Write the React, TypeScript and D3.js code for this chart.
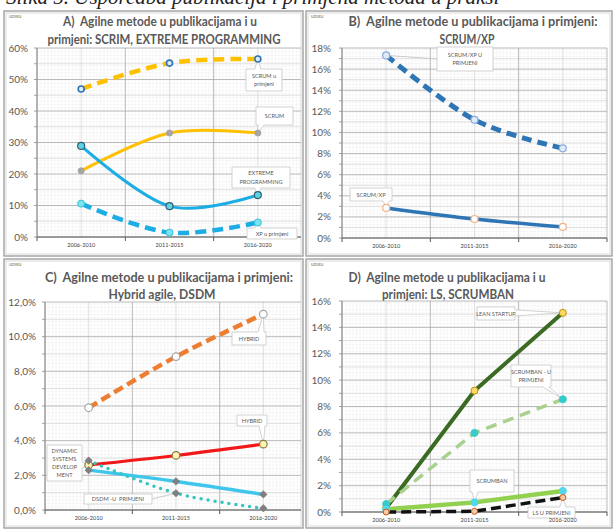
import React from 'react';
import * as d3 from 'd3';

// ---------- DATA ----------
const categories = ['2006-2010', '2011-2015', '2016-2020'];

// Panel A
const aScrumPrimjena = [0.47, 0.552, 0.565];
const aScrum = [0.21, 0.33, 0.33];
const aExtreme = [0.289, 0.098, 0.133];
const aXpPrimjena = [0.106, 0.014, 0.046];
const aTicks = [0, 0.1, 0.2, 0.3, 0.4, 0.5, 0.6];

// Panel B
const bScrumXpPrimjena = [0.173, 0.112, 0.085];
const bScrumXp = [0.0285, 0.018, 0.0105];
const bTicks = [0, 0.02, 0.04, 0.06, 0.08, 0.1, 0.12, 0.14, 0.16, 0.18];

// Panel C
const cHybridPrimjena = [0.059, 0.0885, 0.113];
const cHybrid = [0.026, 0.0315, 0.038];
const cDsdm = [0.023, 0.0165, 0.009];
const cDsdmPrimjena = [0.0285, 0.0097, 0.001];
const cTicks = [0, 0.02, 0.04, 0.06, 0.08, 0.1, 0.12];

// Panel D
const dLeanStartup = [0.003, 0.092, 0.151];
const dScrumbanPrimjena = [0.006, 0.06, 0.0855];
const dScrumban = [0.002, 0.0073, 0.016];
const dLsPrimjena = [0, 0.0005, 0.011];
const dTicks = [0, 0.02, 0.04, 0.06, 0.08, 0.1, 0.12, 0.14, 0.16];

const titleA = ['A)  Agilne metode u publikacijama i u', 'primjeni: SCRIM, EXTREME PROGRAMMING'];
const titleB = ['B)  Agilne metode u publikacijama i primjeni:', 'SCRUM/XP'];
const titleC = ['C)  Agilne metode u publikacijama i primjeni:', 'Hybrid agile, DSDM'];
const titleD = ['D)  Agilne metode u publikacijama i u', 'primjeni: LS, SCRUMBAN'];

const caption = 'Slika 5. Usporedba publikacija i primjena metoda u praksi';

// ---------- STYLE / LAYOUT ----------
const pct = (v: number) => `${Math.round(v * 100)}%`;
const commaLocale = d3.formatLocale({ decimal: ',', thousands: '.', grouping: [3], currency: ['', ''] });
const pct1 = commaLocale.format('.1%');

const smooth = d3.curveCardinal.tension(0);
const straight = d3.curveLinear;

type Marker = { shape: 'circle' | 'diamond'; r: number; fill: string; stroke: string; sw: number };
type Series = { values: number[]; color: string; width: number; dash?: string; cap?: 'round' | 'butt'; curve: any; marker: Marker };
type Callout = { lines: string[]; box: [number, number, number, number]; s: number; p: number; leader?: boolean };
type Panel = {
  id: string;
  frame: [number, number, number, number];
  titles: { text: string; x: number; y: number; len: number }[];
  plot: { left: number; right: number; top: number; bottom: number };
  ticks: number[];
  fmt: (v: number) => string;
  labelX: number;
  series: Series[];
  callouts: Callout[];
};

const panels: Panel[] = [
  {
    id: 'A',
    frame: [4, 11, 299, 245],
    titles: [
      { text: titleA[0], x: 160, y: 26, len: 194 },
      { text: titleA[1], x: 164, y: 43.5, len: 233 },
    ],
    plot: { left: 37, right: 302, top: 48, bottom: 237 },
    ticks: aTicks,
    fmt: pct,
    labelX: 28,
    series: [
      { values: aScrumPrimjena, color: '#FFC000', width: 4.5, dash: '11 6', curve: smooth, marker: { shape: 'circle', r: 3, fill: '#DDEBF7', stroke: '#2E75B6', sw: 1.6 } },
      { values: aScrum, color: '#FFC000', width: 3, curve: smooth, marker: { shape: 'circle', r: 3, fill: '#A5A5A5', stroke: '#A5A5A5', sw: 1 } },
      { values: aExtreme, color: '#1CADE4', width: 3, curve: smooth, marker: { shape: 'circle', r: 3.5, fill: '#5FD3E6', stroke: '#2F5F6F', sw: 1.2 } },
      { values: aXpPrimjena, color: '#1CADE4', width: 4.5, dash: '11 6', curve: smooth, marker: { shape: 'circle', r: 3.5, fill: '#7FE3EF', stroke: '#2FC4D6', sw: 1 } },
    ],
    callouts: [
      { lines: ['SCRUM u', 'primjeni'], box: [246, 69, 36, 22], s: 0, p: 2 },
      { lines: ['SCRUM'], box: [256, 107, 37, 18], s: 1, p: 2 },
      { lines: ['EXTREME', 'PROGRAMMING'], box: [232, 167, 58, 21], s: 2, p: 2 },
      { lines: ['XP u primjeni'], box: [247, 228, 50, 11], s: 3, p: 2 },
    ],
  },
  {
    id: 'B',
    frame: [306, 11, 306, 245],
    titles: [
      { text: titleB[0], x: 473, y: 26, len: 249 },
      { text: titleB[1], x: 467, y: 43.5, len: 55 },
    ],
    plot: { left: 342, right: 607, top: 48, bottom: 238 },
    ticks: bTicks,
    fmt: pct,
    labelX: 331,
    series: [
      { values: bScrumXpPrimjena, color: '#2E75B6', width: 5, dash: '10 6', curve: smooth, marker: { shape: 'circle', r: 3.5, fill: '#DDEBF7', stroke: '#8FAADC', sw: 1.2 } },
      { values: bScrumXp, color: '#2E75B6', width: 3.5, curve: smooth, marker: { shape: 'circle', r: 3.5, fill: '#FFFFFF', stroke: '#F4B183', sw: 1.2 } },
    ],
    callouts: [
      { lines: ['SCRUM/XP U', 'PRIMJENI'], box: [437, 47, 56, 24], s: 0, p: 0, leader: true },
      { lines: ['SCRUM/XP'], box: [350, 188, 42, 13], s: 1, p: 0 },
    ],
  },
  {
    id: 'C',
    frame: [4, 259, 299, 269],
    titles: [
      { text: titleC[0], x: 169, y: 282, len: 248 },
      { text: titleC[1], x: 162, y: 298.5, len: 107 },
    ],
    plot: { left: 45, right: 307, top: 302, bottom: 510 },
    ticks: cTicks,
    fmt: (v: number) => pct1(v),
    labelX: 36,
    series: [
      { values: cHybridPrimjena, color: '#ED7D31', width: 4.5, dash: '10 5', curve: smooth, marker: { shape: 'circle', r: 3.8, fill: '#FFFFFF', stroke: '#A5A5A5', sw: 1.2 } },
      { values: cHybrid, color: '#F01818', width: 3, curve: smooth, marker: { shape: 'circle', r: 3.8, fill: '#FFF2B3', stroke: '#7F7F3F', sw: 1.2 } },
      { values: cDsdm, color: '#3EC6EC', width: 3.5, curve: smooth, marker: { shape: 'diamond', r: 3.8, fill: '#7F7F7F', stroke: '#7F7F7F', sw: 0.5 } },
      { values: cDsdmPrimjena, color: '#33C6C0', width: 3.5, dash: '0 7', cap: 'round', curve: smooth, marker: { shape: 'diamond', r: 3.8, fill: '#7F7F7F', stroke: '#7F7F7F', sw: 0.5 } },
    ],
    callouts: [
      { lines: ['HYBRID'], box: [232, 332, 34, 13], s: 0, p: 2 },
      { lines: ['HYBRID'], box: [237, 415, 30, 11], s: 1, p: 2 },
      { lines: ['DYNAMIC', 'SYSTEMS', 'DEVELOP', 'MENT'], box: [47, 445, 35, 36], s: 1, p: 0 },
      { lines: ['DSDM -U  PRIMJENI'], box: [84, 494, 68, 10], s: 3, p: 1, leader: true },
    ],
  },
  {
    id: 'D',
    frame: [306, 259, 306, 269],
    titles: [
      { text: titleD[0], x: 447, y: 282, len: 197 },
      { text: titleD[1], x: 448, y: 298.5, len: 132 },
    ],
    plot: { left: 342, right: 607, top: 301, bottom: 512 },
    ticks: dTicks,
    fmt: pct,
    labelX: 331,
    series: [
      { values: dLeanStartup, color: '#3B6A22', width: 4, curve: straight, marker: { shape: 'circle', r: 3.5, fill: '#FFD966', stroke: '#BF9000', sw: 1 } },
      { values: dScrumbanPrimjena, color: '#A9D18E', width: 3.5, dash: '11 7', curve: straight, marker: { shape: 'circle', r: 3.5, fill: '#33CCCC', stroke: '#33CCCC', sw: 1 } },
      { values: dScrumban, color: '#92D050', width: 4.5, curve: straight, marker: { shape: 'circle', r: 3.5, fill: '#4FD8EC', stroke: '#4FD8EC', sw: 1 } },
      { values: dLsPrimjena, color: '#111111', width: 3.5, dash: '10 5', curve: straight, marker: { shape: 'circle', r: 3, fill: '#F8CBAD', stroke: '#C55A11', sw: 1 } },
    ],
    callouts: [
      { lines: ['LEAN STARTUP'], box: [477, 307, 38, 13], s: 0, p: 2 },
      { lines: ['SCRUMBAN - U', 'PRIMJENI'], box: [511, 365, 40, 22], s: 1, p: 2 },
      { lines: ['SCRUMBAN'], box: [470, 470, 44, 22], s: 2, p: 1 },
      { lines: ['LS U PRIMJENI'], box: [528, 507, 47, 11], s: 3, p: 2 },
    ],
  },
];

// ---------- HELPERS ----------
function calloutPath(bx: number, by: number, bw: number, bh: number, tx: number, ty: number) {
  const hw = 3;
  const x2 = bx + bw, y2 = by + bh;
  const clamp = (v: number, a: number, b: number) => Math.max(a, Math.min(b, v));
  if (ty > y2) {
    const c = clamp(tx, bx + hw + 2, x2 - hw - 2);
    return `M${bx},${by}H${x2}V${y2}H${c + hw}L${tx},${ty}L${c - hw},${y2}H${bx}Z`;
  }
  if (ty < by) {
    const c = clamp(tx, bx + hw + 2, x2 - hw - 2);
    return `M${bx},${by}H${c - hw}L${tx},${ty}L${c + hw},${by}H${x2}V${y2}H${bx}Z`;
  }
  if (tx > x2) {
    const c = clamp(ty, by + hw + 1, y2 - hw - 1);
    return `M${bx},${by}H${x2}V${c - hw}L${tx},${ty}L${x2},${c + hw}V${y2}H${bx}Z`;
  }
  const c = clamp(ty, by + hw + 1, y2 - hw - 1);
  return `M${bx},${by}H${x2}V${y2}H${bx}V${c + hw}L${tx},${ty}L${bx},${c - hw}Z`;
}

function markerShape(m: Marker, x: number, y: number, key: string) {
  if (m.shape === 'diamond') {
    return <path key={key} d={`M${x},${y - m.r}L${x + m.r},${y}L${x},${y + m.r}L${x - m.r},${y}Z`} fill={m.fill} stroke={m.stroke} strokeWidth={m.sw} />;
  }
  return <circle key={key} cx={x} cy={y} r={m.r} fill={m.fill} stroke={m.stroke} strokeWidth={m.sw} />;
}

const FONT = 'Lato, "Open Sans", "Liberation Sans", sans-serif';

function PanelView({ cfg }: { cfg: Panel }) {
  const { plot, frame } = cfg;
  const maxV = cfg.ticks[cfg.ticks.length - 1];
  const y = d3.scaleLinear().domain([0, maxV]).range([plot.bottom, plot.top]);
  const x = d3.scaleBand<string>().domain(categories).range([plot.left, plot.right]);
  const bw = x.bandwidth();
  const cx = (c: string) => (x(c) as number) + bw / 2;
  const step = cfg.ticks[1] - cfg.ticks[0];
  const halfTicks = cfg.ticks.slice(0, -1).map((t) => t + step / 2);
  const bounds = [...categories.map((c) => x(c) as number), plot.right];
  const clipId = `clip-${cfg.id}`;
  const patId = `pat-${cfg.id}`;

  const pts = (s: Series) => s.values.map((v, i) => [cx(categories[i]), y(v)] as [number, number]);

  return (
    <g>
      <defs>
        <clipPath id={clipId}>
          <rect x={frame[0] + 2} y={frame[1] + 2} width={frame[2] - 4} height={frame[3] - 4} />
        </clipPath>
        <pattern id={patId} x={plot.left} y={plot.bottom} width={3.5} height={3.5} patternUnits="userSpaceOnUse">
          <path d="M3.5,0L0,0L0,3.5" fill="none" stroke="#E4E4E4" strokeWidth={0.5} />
        </pattern>
      </defs>
      <rect x={frame[0]} y={frame[1]} width={frame[2]} height={frame[3]} fill="#FFFFFF" stroke="#A6A6A6" strokeWidth={1.5} />
      <rect x={frame[0] + 2} y={frame[1] + 2} width={frame[2] - 4} height={frame[3] - 4} fill="none" stroke="#D9D9D9" strokeWidth={1} />
      <text x={frame[0] + 5} y={frame[1] + 7} fontSize={4} fill="#8C8C8C" fontFamily={FONT} fontWeight={700}>UDIEU</text>
      {cfg.titles.map((t, i) => (
        <text key={i} x={t.x} y={t.y} textAnchor="middle" fontSize={13} fontWeight={700} fill="#595959" fontFamily={FONT}
          textLength={t.len} lengthAdjust="spacingAndGlyphs" style={{ whiteSpace: 'pre' }}>{t.text}</text>
      ))}
      <g clipPath={`url(#${clipId})`}>
        <rect x={plot.left} y={plot.top} width={plot.right - plot.left} height={plot.bottom - plot.top} fill={`url(#${patId})`} />
        {halfTicks.map((t, i) => (
          <line key={`h${i}`} x1={plot.left} x2={plot.right} y1={y(t)} y2={y(t)} stroke="#CFCFCF" strokeWidth={0.6} />
        ))}
        {categories.map((c, i) => (
          <line key={`vc${i}`} x1={cx(c)} x2={cx(c)} y1={plot.top} y2={plot.bottom} stroke="#CFCFCF" strokeWidth={0.6} />
        ))}
        {cfg.ticks.map((t, i) => (
          <line key={`g${i}`} x1={plot.left} x2={plot.right} y1={y(t)} y2={y(t)} stroke="#A9A9A9" strokeWidth={0.8} />
        ))}
        {bounds.map((b, i) => (
          <line key={`vb${i}`} x1={b} x2={b} y1={plot.top} y2={plot.bottom} stroke="#A9A9A9" strokeWidth={0.8} />
        ))}
        {/* y axis */}
        <line x1={plot.left} x2={plot.left} y1={plot.top} y2={plot.bottom} stroke="#8C8C8C" strokeWidth={1} />
        {[...cfg.ticks, ...halfTicks].map((t, i) => (
          <line key={`yt${i}`} x1={plot.left - 3} x2={plot.left} y1={y(t)} y2={y(t)} stroke="#8C8C8C" strokeWidth={0.8} />
        ))}
        {/* x axis */}
        <line x1={plot.left} x2={plot.right} y1={plot.bottom} y2={plot.bottom} stroke="#595959" strokeWidth={1.2} />
        {bounds.map((b, i) => (
          <line key={`xt${i}`} x1={b} x2={b} y1={plot.bottom} y2={plot.bottom + 4} stroke="#595959" strokeWidth={1} />
        ))}
        {/* series */}
        {cfg.series.map((s, i) => {
          const line = d3.line().curve(s.curve);
          return (
            <path key={`s${i}`} d={line(pts(s)) || ''} fill="none" stroke={s.color} strokeWidth={s.width}
              strokeDasharray={s.dash} strokeLinecap={s.cap || 'butt'} strokeLinejoin="round" />
          );
        })}
        {/* callouts */}
        {cfg.callouts.map((c, i) => {
          const [bx, by, bwid, bh] = c.box;
          const [tx, ty] = pts(cfg.series[c.s])[c.p];
          const lh = 8.2;
          const y0 = by + bh / 2 - ((c.lines.length - 1) * lh) / 2 + 2;
          return (
            <g key={`c${i}`}>
              {c.leader ? (
                <>
                  <line x1={tx} y1={ty} x2={tx < bx ? bx : bx + bwid} y2={by + bh / 2} stroke="#BFBFBF" strokeWidth={0.8} />
                  <rect x={bx} y={by} width={bwid} height={bh} fill="#FFFFFF" stroke="#C8C8C8" strokeWidth={0.8} />
                </>
              ) : (
                <path d={calloutPath(bx, by, bwid, bh, tx, ty)} fill="#FFFFFF" stroke="#C8C8C8" strokeWidth={0.8} />
              )}
              {c.lines.map((l, j) => (
                <text key={j} x={bx + bwid / 2} y={y0 + j * lh} textAnchor="middle" fontSize={5.6} fill="#595959"
                  fontFamily={FONT} style={{ whiteSpace: 'pre' }}>{l}</text>
              ))}
            </g>
          );
        })}
        {/* markers */}
        {cfg.series.map((s, i) => pts(s).map(([px, py], j) => markerShape(s.marker, px, py, `m${i}-${j}`)))}
        {/* x tick labels */}
        {categories.map((c, i) => (
          <text key={`xl${i}`} x={cx(c)} y={plot.bottom + 10} textAnchor="middle" fontSize={5.6} fill="#404040" fontFamily={FONT}>{c}</text>
        ))}
      </g>
      {/* y tick labels */}
      {cfg.ticks.map((t, i) => (
        <text key={`yl${i}`} x={cfg.labelX} y={y(t) + 3.5} textAnchor="end" fontSize={10} fill="#595959" fontFamily={FONT}>{cfg.fmt(t)}</text>
      ))}
    </g>
  );
}

export default function App() {
  return (
    <div style={{ position: 'absolute', left: 0, top: 0 }}>
      <svg width={614} height={530} viewBox="0 0 614 530" style={{ display: 'block', background: '#FFFFFF' }}>
        <rect x={0} y={0} width={614} height={530} fill="#FFFFFF" />
        <text x={6} y={4} fontFamily='"Liberation Serif", serif' fontStyle="italic" fontSize={21} fill="#222">{caption}</text>
        {panels.map((p) => <PanelView key={p.id} cfg={p} />)}
      </svg>
    </div>
  );
}
